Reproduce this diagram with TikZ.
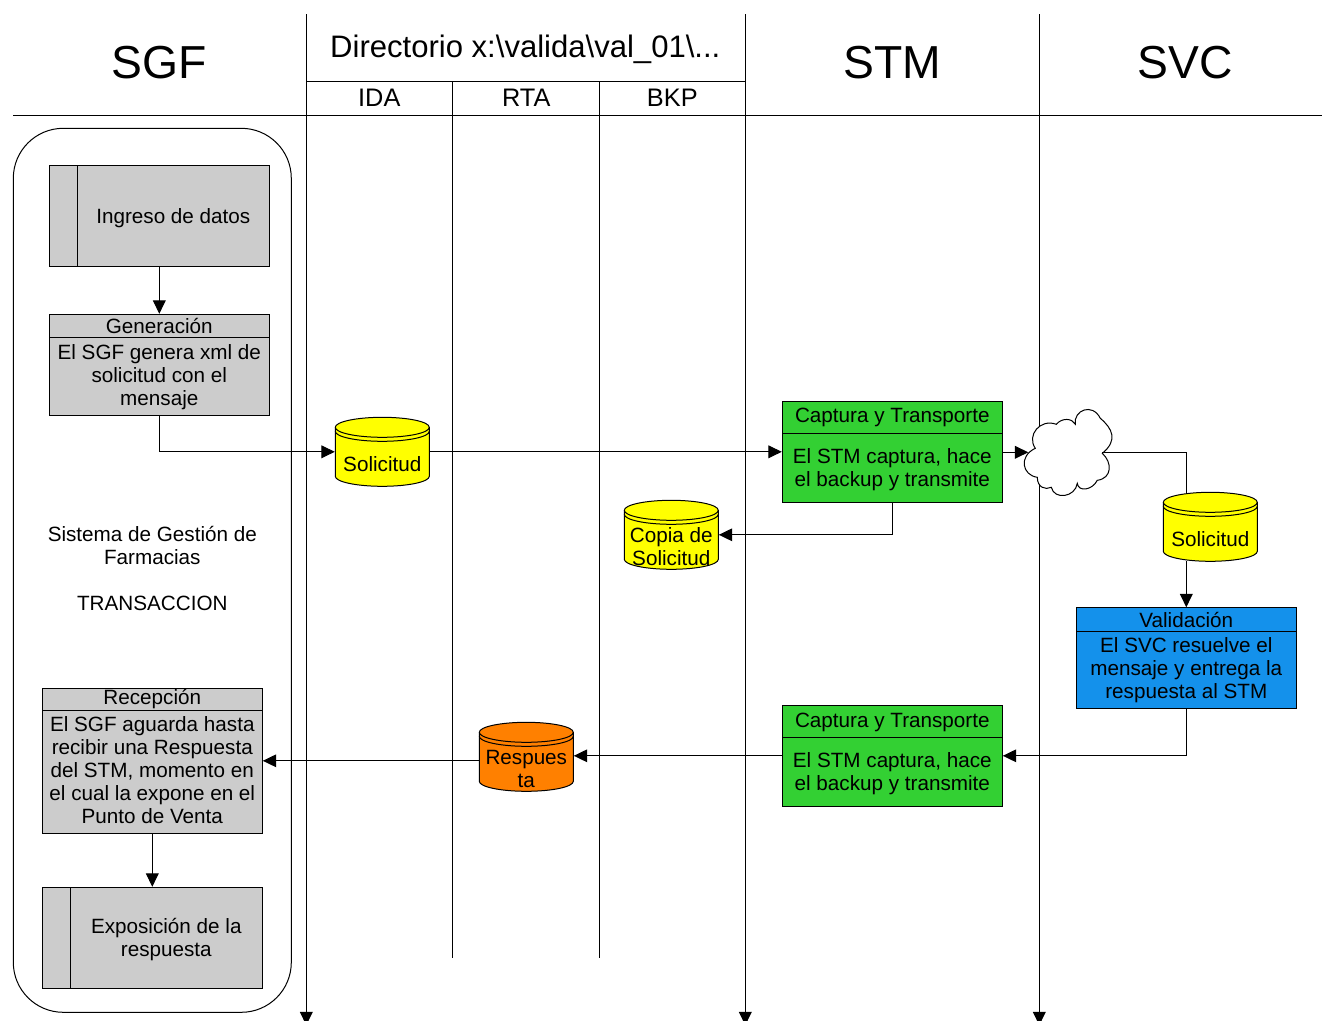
\documentclass[tikz,border=0pt]{standalone}
\usepackage{fontspec}
\setmainfont{Liberation Sans}
\usetikzlibrary{arrows.meta}

\definecolor{boxgray}{RGB}{204,204,204}
\definecolor{boxgreen}{RGB}{51,208,51}
\definecolor{boxblue}{RGB}{20,145,235}
\definecolor{boxorange}{RGB}{255,128,0}
\definecolor{boxyellow}{RGB}{255,255,0}

\tikzset{
    >={Triangle[length=10pt,width=9.5pt]},
    every path/.style={line width=0.75pt},
    txt/.style={inner sep=0pt, align=center, font=\fontsize{15.5}{17.25}\selectfont},
    title/.style={inner sep=0pt, font=\fontsize{34.7}{40}\selectfont},
    lanetitle/.style={inner sep=0pt, font=\fontsize{19}{22}\selectfont},
    procbox/.style={draw, inner sep=0pt, minimum width=165pt, minimum height=75.75pt},
    headbox/.style={draw, inner sep=0pt, minimum width=165pt, anchor=north, align=center, font=\fontsize{15.5}{17.25}\selectfont},
    storebox/.style={inner sep=0pt, minimum width=70.5pt, minimum height=51.75pt},
}

% Data store: name, x, y, colour, text
\newcommand{\datastore}[5]{
    \draw[fill=#4] (#2-47,#3-24.5) arc[start angle=180, end angle=360, x radius=47, y radius=10]
        -- (#2+47,#3+24.5) arc[start angle=0, end angle=180, x radius=47, y radius=10] -- cycle;
    \draw (#2-47,#3-24.5) arc[start angle=180, end angle=0, x radius=47, y radius=10];
    \draw (#2-47,#3-20.5) arc[start angle=180, end angle=0, x radius=47, y radius=10];
    \node[storebox] (#1) at (#2,#3) {};
    \node[txt] (#1text) at (#2,#3+12) {#5};
}

\begin{document}
\begin{tikzpicture}[x=0.75pt, y=-0.75pt]

    \useasboundingbox (-0.3,-0.3) rectangle (1321.7,1020.7);

    %% Swimlanes

    % Lane borders
    \draw (13,115) -- (1322,115);
    \draw (306,81) -- (745,81);
    \draw[->] (306,14) -- (306,1025);
    \draw[->] (745,14) -- (745,1025);
    \draw[->] (1039,14) -- (1039,1025);
    \draw (452,81) -- (452,958);
    \draw (599,81) -- (599,958);

    % Lane titles
    \node[title] (tsgf) at (159,62) {SGF};
    \node[title] (tstm) at (892,62) {STM};
    \node[title] (tsvc) at (1185,62) {SVC};
    \node[inner sep=0pt, font=\fontsize{23.3}{26}\selectfont] (tdir) at (525,49) {Directorio x:\textbackslash valida\textbackslash val\_01\textbackslash ...};
    \node[lanetitle] (tida) at (379,97) {IDA};
    \node[lanetitle] (trta) at (526,97) {RTA};
    \node[lanetitle] (tbkp) at (672,97) {BKP};

    %% SGF

    % Frame
    \draw[rounded corners=37.5pt] (13,128) rectangle (291,1012);

    % Data entry
    \node[procbox, fill=boxgray] (ingreso) at (159,215.5) {};
    \draw (77,165) -- (77,266);
    \node[txt] (ingresotext) at (173,217.5) {Ingreso de datos};

    % Generation
    \node[procbox, fill=boxgray] (gen) at (159,364.5) {};
    \node[headbox, fill=boxgray, minimum height=17.25pt] (genhead) at (gen.north) {Generación};
    \node[txt] (gentext) at (159,377) {El SGF genera xml de\\solicitud con el\\mensaje};

    % Caption
    \node[txt] (sistema) at (152,568.5) {Sistema de Gestión de\\Farmacias\\[17.25pt]TRANSACCION};

    % Reception
    \node[procbox, fill=boxgray, minimum height=108.75pt] (recep) at (152,760.5) {};
    \node[headbox, fill=boxgray, minimum height=16.5pt] (recephead) at (recep.north) {Recepción};
    \node[txt] (receptext) at (152,770) {El SGF aguarda hasta\\recibir una Respuesta\\del STM, momento en\\el cual la expone en el\\Punto de Venta};

    % Exposure
    \node[procbox, fill=boxgray] (expo) at (152,937.5) {};
    \draw (70,887) -- (70,988);
    \node[txt] (expotext) at (166,939) {Exposición de la\\respuesta};

    %% STM

    % First capture
    \node[procbox, fill=boxgreen] (capa) at (892,452) {};
    \node[headbox, fill=boxgreen, minimum height=24pt] (capahead) at (capa.north) {Captura y Transporte};
    \node[txt] (capatext) at (892,469) {El STM captura, hace\\el backup y transmite};

    % Second capture
    \node[procbox, fill=boxgreen] (capb) at (892,755.5) {};
    \node[headbox, fill=boxgreen, minimum height=24pt, text height=13pt] (capbhead) at (capb.north) {Captura y Transporte};
    \node[txt] (capbtext) at (892,773) {El STM captura, hace\\el backup y transmite};

    %% SVC

    % Validation
    \node[procbox, fill=boxblue] (valid) at (1186,658) {};
    \node[headbox, fill=boxblue, minimum height=18pt] (validhead) at (valid.north) {Validación};
    \node[txt] (validtext) at (1186,670) {El SVC resuelve el\\mensaje y entrega la\\respuesta al STM};

    %% Data stores

    \datastore{sola}{382}{451.5}{boxyellow}{Solicitud}
    \datastore{copia}{671}{534.5}{boxyellow}{Copia de\\Solicitud}
    \datastore{solb}{1210}{526.5}{boxyellow}{Solicitud}
    \datastore{respta}{526}{756.5}{boxorange}{Respues\\ta}

    %% Network

    % Cloud
    \draw[fill=white] (1035,448) .. controls (1026,435) and (1040,418) .. (1056,424)
        .. controls (1062,417) and (1072,418) .. (1075,424)
        .. controls (1073,410) and (1092,402) .. (1100,418)
        .. controls (1112,428) and (1118,440) .. (1102,453)
        .. controls (1112,462) and (1112,478) .. (1097,480)
        .. controls (1092,490) and (1078,492) .. (1077,483)
        .. controls (1075,497) and (1054,500) .. (1051,487)
        .. controls (1045,490) and (1037,487) .. (1037,477)
        .. controls (1022,475) and (1018,456) .. (1035,448) -- cycle;
    \coordinate (cloudin) at (1028,452);
    \coordinate (cloudout) at (1102,452);
    \coordinate (solbin) at (1186,493);
    \coordinate (solbout) at (1186,561);

    %% Flow

    \draw[->] (ingreso) -- (gen);
    \draw[->] (gen.south) |- (sola.west);
    \draw[->] (sola.east) -- (sola.east -| capa.west);
    \draw[->] (capa.east |- cloudin) -- (cloudin);
    \draw[->] (capa.south) |- (copia.east);
    \draw (cloudout) -| (solbin);
    \draw[->] (solbout) -- (valid.north -| solbout);
    \draw[->] (valid.south) |- (capb.east);
    \draw[->] (capb.west) -- (capb.west -| respta.east);
    \draw[->] (respta.west |- recep.east) -- (recep.east);
    \draw[->] (recep.south) -- (expo.north);

\end{tikzpicture}
\end{document}
